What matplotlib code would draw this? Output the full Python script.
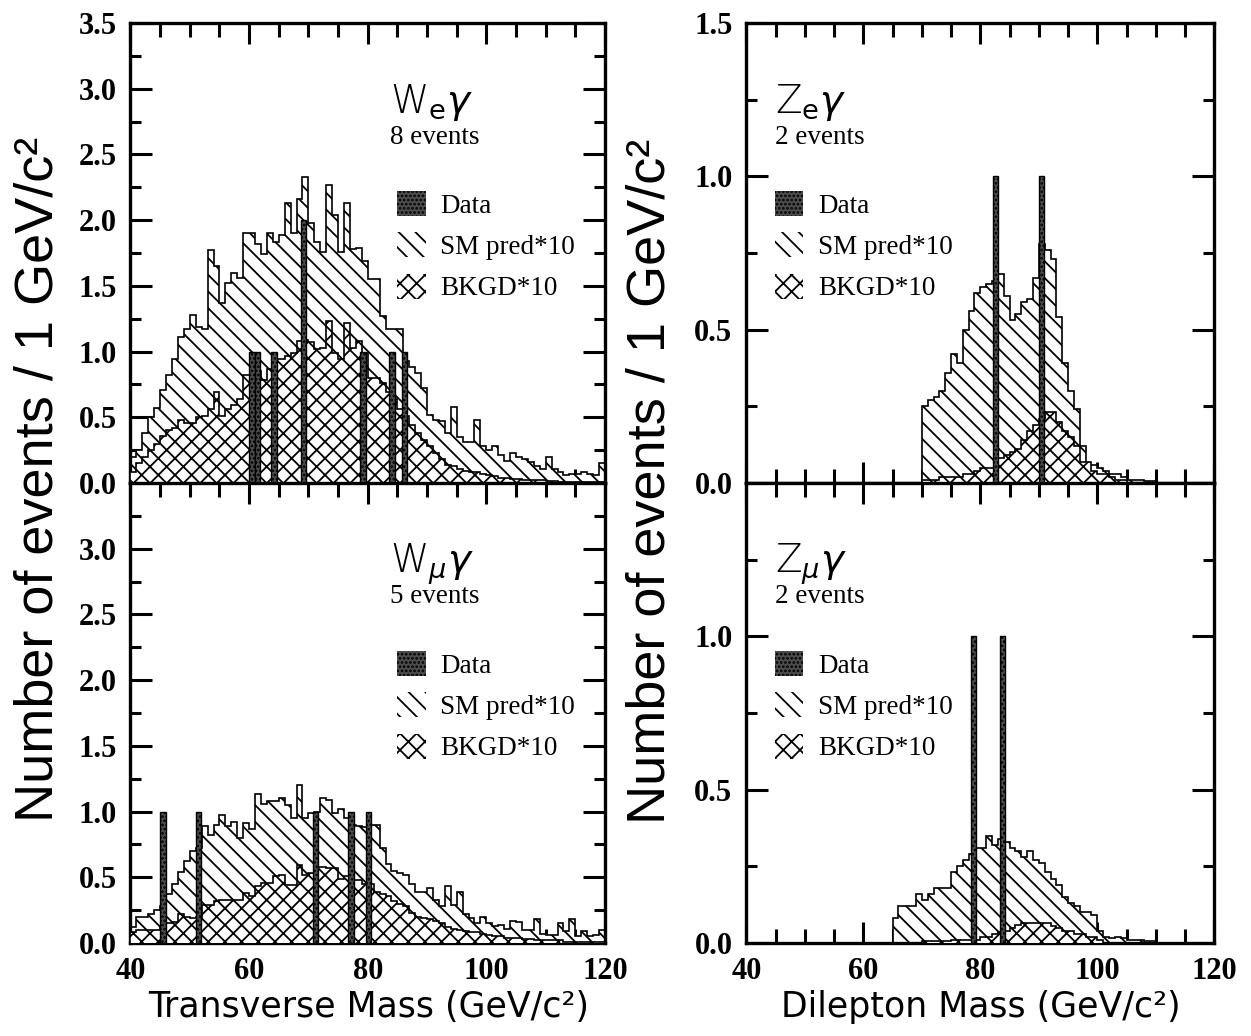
import matplotlib
matplotlib.use("Agg")
import matplotlib.pyplot as plt
from matplotlib.patches import Patch
from matplotlib.ticker import MultipleLocator
import numpy as np

plt.rcParams['hatch.linewidth'] = 1.3
plt.rcParams['mathtext.fontset'] = 'dejavusans'

#
#  DATA  (events / 1 GeV/c^2, 1 GeV bins)
#

# W_e gamma : bins 40..119
we_lo = 40
we_sm = [0.20, 0.25, 0.38, 0.50, 0.57, 0.71, 0.82, 0.94, 1.11, 1.17,
         1.28, 1.19, 1.17, 1.77, 1.65, 1.37, 1.52, 1.60, 1.56, 1.90,
         1.90, 1.82, 1.74, 1.90, 1.83, 1.89, 2.13, 1.90, 2.16, 2.33,
         1.98, 1.83, 1.76, 2.27, 2.04, 1.76, 2.13, 1.78, 1.79, 1.69,
         1.55, 1.55, 1.27, 1.17, 1.17, 1.17, 0.93, 0.88, 0.84, 0.72,
         0.52, 0.48, 0.47, 0.38, 0.58, 0.35, 0.31, 0.31, 0.48, 0.28,
         0.25, 0.28, 0.21, 0.17, 0.23, 0.20, 0.18, 0.16, 0.13, 0.11,
         0.20, 0.11, 0.08, 0.06, 0.07, 0.07, 0.08, 0.07, 0.06, 0.15]
we_bk = [0.08, 0.15, 0.20, 0.25, 0.30, 0.36, 0.40, 0.42, 0.48, 0.46,
         0.46, 0.50, 0.51, 0.56, 0.69, 0.51, 0.56, 0.59, 0.64, 0.82,
         0.82, 0.85, 0.78, 0.87, 0.94, 0.94, 0.97, 0.99, 1.08, 1.09,
         1.07, 1.02, 1.03, 1.23, 0.99, 0.94, 1.22, 1.03, 1.08, 0.99,
         0.80, 0.80, 0.76, 0.69, 0.64, 0.56, 0.51, 0.44, 0.38, 0.33,
         0.28, 0.23, 0.18, 0.14, 0.13, 0.11, 0.09, 0.08, 0.08, 0.07,
         0.06, 0.05, 0.04, 0.04, 0.03, 0.03, 0.02, 0.02, 0.02, 0.02,
         0.015, 0.015, 0.01, 0.01, 0.01, 0.01, 0.005, 0.005, 0.005, 0.005]
we_data_x = [60.5, 61.4, 64.2, 69.2, 79.2, 84.1, 86.2]
we_data_n = [1, 1, 1, 2, 1, 1, 1]

# W_mu gamma : bins 40..119
wm_lo = 40
wm_sm = [0.12, 0.20, 0.20, 0.22, 0.25, 0.28, 0.37, 0.45, 0.54, 0.62,
         0.70, 0.72, 0.89, 0.82, 0.90, 0.97, 0.89, 0.92, 0.80, 0.91,
         0.87, 1.13, 1.06, 1.08, 1.08, 1.10, 1.05, 0.95, 1.20, 0.95,
         0.99, 1.00, 1.10, 1.09, 0.99, 1.02, 0.95, 0.90, 0.89, 0.88,
         0.90, 0.90, 0.72, 0.60, 0.55, 0.53, 0.52, 0.45, 0.39, 0.39,
         0.42, 0.33, 0.28, 0.43, 0.29, 0.39, 0.22, 0.19, 0.15, 0.20,
         0.15, 0.13, 0.14, 0.11, 0.17, 0.16, 0.10, 0.10, 0.18, 0.07,
         0.06, 0.06, 0.15, 0.09, 0.18, 0.05, 0.09, 0.05, 0.06, 0.10]
wm_bk = [0.08, 0.10, 0.10, 0.10, 0.10, 0.12, 0.15, 0.16, 0.22, 0.20,
         0.19, 0.20, 0.29, 0.29, 0.32, 0.33, 0.33, 0.33, 0.33, 0.38,
         0.36, 0.43, 0.46, 0.46, 0.51, 0.52, 0.44, 0.44, 0.59, 0.52,
         0.53, 0.58, 0.58, 0.57, 0.57, 0.49, 0.51, 0.48, 0.48, 0.45,
         0.45, 0.39, 0.37, 0.36, 0.32, 0.30, 0.28, 0.23, 0.20, 0.19,
         0.18, 0.17, 0.15, 0.12, 0.11, 0.10, 0.09, 0.08, 0.08, 0.07,
         0.06, 0.05, 0.05, 0.04, 0.04, 0.04, 0.03, 0.03, 0.02, 0.02,
         0.02, 0.02, 0.02, 0.01, 0.01, 0.01, 0.01, 0.01, 0.01, 0.01]
wm_data_x = [45.5, 51.5, 71.2, 77.2, 80.1]
wm_data_n = [1, 1, 1, 1, 1]

# Z_e gamma : bins 70..109
ze_lo = 70
ze_sm = [0.25, 0.27, 0.28, 0.30, 0.36, 0.42, 0.39, 0.50, 0.56, 0.62,
         0.64, 0.65, 0.66, 0.68, 0.61, 0.53, 0.55, 0.59, 0.60, 0.67,
         0.78, 0.76, 0.73, 0.54, 0.39, 0.30, 0.24, 0.12, 0.06, 0.06,
         0.05, 0.04, 0.03, 0.03, 0.02, 0.01, 0.01, 0.01, 0.005, 0.005]
ze_bk = [0.01, 0.01, 0.01, 0.02, 0.02, 0.02, 0.02, 0.03, 0.03, 0.04,
         0.05, 0.05, 0.05, 0.08, 0.09, 0.10, 0.11, 0.14, 0.17, 0.19,
         0.21, 0.23, 0.23, 0.20, 0.17, 0.15, 0.12, 0.07, 0.07, 0.04,
         0.03, 0.03, 0.02, 0.01, 0.01, 0.0, 0.0, 0.0, 0.0, 0.0]
ze_data_x = [82.6, 90.5]
ze_data_n = [1, 1]

# Z_mu gamma : bins 65..109
zm_lo = 65
zm_sm = [0.08, 0.12, 0.12, 0.12, 0.16, 0.14, 0.16, 0.18, 0.18, 0.18,
         0.23, 0.25, 0.27, 0.29, 0.31, 0.31, 0.35, 0.32, 0.34, 0.33,
         0.31, 0.30, 0.28, 0.30, 0.27, 0.26, 0.23, 0.21, 0.19, 0.15,
         0.13, 0.12, 0.10, 0.10, 0.09, 0.04, 0.02, 0.015, 0.02, 0.015,
         0.01, 0.01, 0.01, 0.005, 0.005]
zm_bk = [0.0, 0.0, 0.0, 0.0, 0.0, 0.005, 0.005, 0.005, 0.005, 0.005,
         0.01, 0.01, 0.01, 0.01, 0.01, 0.02, 0.02, 0.03, 0.035, 0.04,
         0.05, 0.06, 0.065, 0.065, 0.065, 0.065, 0.065, 0.055, 0.05, 0.04,
         0.04, 0.03, 0.03, 0.02, 0.02, 0.01, 0.0, 0.0, 0.0, 0.0,
         0.0, 0.0, 0.0, 0.0, 0.0]
zm_data_x = [78.8, 83.8]
zm_data_n = [1, 1]

leg_labels = ["Data", "SM pred*10", "BKGD*10"]
x_ticks = [40, 60, 80, 100, 120]
x_ticklabels = ["40", "60", "80", "100", "120"]
w_yticks = [0.0, 0.5, 1.0, 1.5, 2.0, 2.5, 3.0, 3.5]
w_top_labels = ["0.0", "0.5", "1.0", "1.5", "2.0", "2.5", "3.0", "3.5"]
w_bot_labels = ["0.0", "0.5", "1.0", "1.5", "2.0", "2.5", "3.0", ""]
z_yticks = [0.0, 0.5, 1.0, 1.5]
z_top_labels = ["0.0", "0.5", "1.0", "1.5"]
z_bot_labels = ["0.0", "0.5", "1.0", ""]

TICKFONT = dict(family="Liberation Serif", weight="bold", size=22)
SERIF = "Liberation Serif"
DATA_FACE = "0.3"
SM_HATCH = "\\\\"
BK_HATCH = "xx"


def draw_panel(ax, lo, sm, bk, dx, dn, ymax, yticks, ylabels, bottom,
               title, nev, tx, leg_x):
    e = np.arange(lo, lo + len(sm) + 1)
    ax.stairs(sm, e, baseline=0, fill=True, facecolor="white",
              edgecolor="black", hatch=SM_HATCH, lw=1.2, zorder=2)
    ax.stairs(bk, e, baseline=0, fill=True, facecolor="white",
              edgecolor="black", hatch=BK_HATCH, lw=1.2, zorder=3)
    ax.bar(dx, dn, width=0.9, facecolor=DATA_FACE, edgecolor="black",
           hatch="....", lw=1.0, zorder=4)

    ax.set_xlim(40, 120)
    ax.set_ylim(0, ymax)
    ax.set_xticks(x_ticks)
    ax.xaxis.set_minor_locator(MultipleLocator(5))
    if bottom:
        ax.set_xticklabels(x_ticklabels, fontdict=TICKFONT)
    else:
        ax.set_xticklabels([])
    ax.set_yticks(yticks)
    ax.set_yticklabels(ylabels, fontdict=TICKFONT)
    ax.yaxis.set_minor_locator(MultipleLocator(0.25))
    ax.tick_params(which="both", direction="in", top=True, right=True,
                   width=2.2)
    ax.tick_params(axis="y", which="major", length=16, pad=10)
    ax.tick_params(axis="y", which="minor", length=8)
    ax.tick_params(axis="x", which="major", length=15, pad=10)
    ax.tick_params(axis="x", which="minor", length=10)
    for s in ax.spines.values():
        s.set_linewidth(2.4)

    ax.text(tx, 0.805, title, transform=ax.transAxes, fontsize=28,
            family="DejaVu Sans", fontweight="light")
    ax.text(tx, 0.738, nev, transform=ax.transAxes, fontsize=19.5,
            family=SERIF)

    handles = [Patch(facecolor=DATA_FACE, edgecolor="black", hatch="....", lw=0),
               Patch(facecolor="white", edgecolor="black", hatch=SM_HATCH, lw=0),
               Patch(facecolor="white", edgecolor="black", hatch=BK_HATCH, lw=0)]
    ax.legend(handles, leg_labels, loc="upper left",
              bbox_to_anchor=(leg_x, 0.635), frameon=False,
              prop=dict(family=SERIF, size=19.5), handlelength=1.05,
              handleheight=1.05, handletextpad=0.55, labelspacing=0.5,
              borderpad=0, borderaxespad=0)


fig = plt.figure(figsize=(12.51, 10.36), dpi=100)
ax_we = fig.add_axes([0.1043, 0.5338, 0.3793, 0.4440])
ax_wm = fig.add_axes([0.1043, 0.0898, 0.3793, 0.4440])
ax_ze = fig.add_axes([0.5966, 0.5338, 0.3741, 0.4440])
ax_zm = fig.add_axes([0.5966, 0.0898, 0.3741, 0.4440])

draw_panel(ax_we, we_lo, we_sm, we_bk, we_data_x, we_data_n, 3.5, w_yticks,
           w_top_labels, False, r"W$_\mathrm{e}\gamma$", "8 events", 0.547, 0.562)
draw_panel(ax_wm, wm_lo, wm_sm, wm_bk, wm_data_x, wm_data_n, 3.5, w_yticks,
           w_bot_labels, True, r"W$_{\mu}\gamma$", "5 events", 0.547, 0.562)
draw_panel(ax_ze, ze_lo, ze_sm, ze_bk, ze_data_x, ze_data_n, 1.5, z_yticks,
           z_top_labels, False, r"Z$_\mathrm{e}\gamma$", "2 events", 0.061, 0.061)
draw_panel(ax_zm, zm_lo, zm_sm, zm_bk, zm_data_x, zm_data_n, 1.5, z_yticks,
           z_bot_labels, True, r"Z$_{\mu}\gamma$", "2 events", 0.061, 0.061)

YLAB = "Number of events / 1 GeV/c²"
LABFONT = ["Liberation Sans", "DejaVu Sans"]
fig.text(0.031, 0.537, YLAB, rotation=90, ha="center", va="center",
         fontsize=39, family=LABFONT)
fig.text(0.520, 0.535, YLAB, rotation=90, ha="center", va="center",
         fontsize=39, family=LABFONT)
fig.text(0.295, 0.028, "Transverse Mass (GeV/c²)", ha="center", va="center",
         fontsize=25, family="DejaVu Sans")
fig.text(0.784, 0.028, "Dilepton Mass (GeV/c²)", ha="center", va="center",
         fontsize=25, family="DejaVu Sans")

fig.savefig("out.png", dpi=100)
